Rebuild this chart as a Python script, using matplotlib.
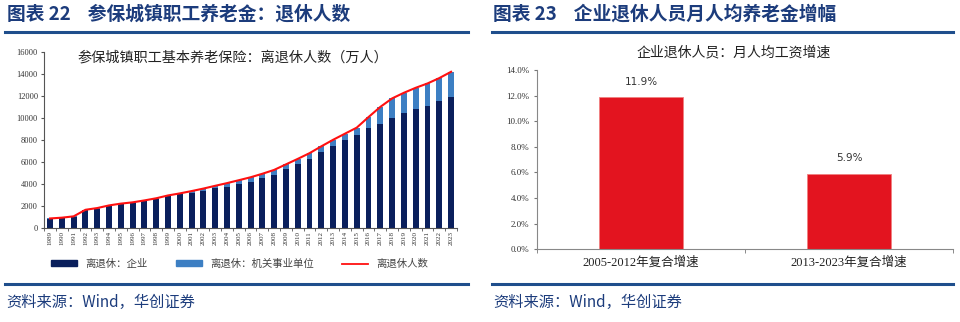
import numpy as np
import matplotlib.pyplot as plt
from matplotlib.lines import Line2D
from matplotlib.patches import Patch

plt.rcParams['font.family'] = ['Noto Sans CJK SC', 'DejaVu Sans']

# data: retirees (10k persons)
years = [str(y) for y in range(1989, 2024)]
total = [893, 965, 1086, 1681, 1839, 2079, 2241, 2358, 2533, 2727, 2984, 3170,
         3381, 3608, 3860, 4103, 4367, 4635, 4954, 5304, 5807, 6305, 6826, 7446,
         8041, 8593, 9142, 10103, 11026, 11798, 12310, 12762, 13157, 13644, 14217]
enterprise = [860, 930, 1050, 1630, 1785, 2020, 2180, 2290, 2460, 2650, 2900, 3090,
              3180, 3420, 3640, 3780, 4000, 4240, 4545, 4850, 5360, 5820, 6270, 6960,
              7480, 8030, 8510, 9090, 9450, 10000, 10450, 10820, 11150, 11570, 11960]
institution = [t - e for t, e in zip(total, enterprise)]

# data: pension growth
growth_cats = ['2005-2012年复合增速', '2013-2023年复合增速']
growth_vals = [11.9, 5.9]

NAVY = '#0A1F5C'
LBLUE = '#3D7FC3'
HEAD = '#1C3C7C'
SERIF = ['Liberation Serif', 'Noto Sans CJK SC']

fig = plt.figure(figsize=(9.6, 3.22), dpi=100)

# headers and rules
fig.text(0.007, 0.957, '图表 22    参保城镇职工养老金：退休人数', fontsize=13.5, fontweight='bold',
         color=HEAD, va='center')
fig.text(0.514, 0.957, '图表 23    企业退休人员月人均养老金增幅', fontsize=13.5, fontweight='bold',
         color=HEAD, va='center')
for x0, x1 in [(0.005, 0.487), (0.513, 0.993)]:
    fig.add_artist(Line2D([x0, x1], [0.902, 0.902], color='#1F4E8C', lw=2.2))
    fig.add_artist(Line2D([x0, x1], [0.117, 0.117], color='#1F4E8C', lw=2.2))
fig.text(0.007, 0.060, '资料来源：Wind，华创证券', fontsize=11, style='italic', color=HEAD, va='center')
fig.text(0.514, 0.060, '资料来源：Wind，华创证券', fontsize=11, style='italic', color=HEAD, va='center')

# left chart
ax = fig.add_axes([0.046, 0.291, 0.430, 0.547])
x = np.arange(len(years))
ax.bar(x, enterprise, width=0.5, color=NAVY, zorder=2)
ax.bar(x, institution, width=0.5, bottom=enterprise, color=LBLUE, zorder=2)
ax.plot(x, total, color='#FF1010', lw=1.5, zorder=3)
ax.set_xlim(-0.5, len(years) - 0.5)
ax.set_ylim(0, 16000)
ax.set_yticks(range(0, 16001, 2000))
ax.set_yticklabels([str(v) for v in range(0, 16001, 2000)], fontsize=6, family=SERIF, color='#333333')
ax.set_xticks(x)
ax.set_xticklabels(years, rotation=90, fontsize=5, family=SERIF, color='#333333')
ax.tick_params(axis='x', length=0, pad=2)
ax.set_xticks(np.arange(-0.5, len(years), 1), minor=True)
ax.tick_params(axis='x', which='minor', length=2.5, color='#555555')
ax.tick_params(axis='y', length=2.5, color='#555555', pad=2)
for s in ['top', 'right']:
    ax.spines[s].set_visible(False)
for s in ['left', 'bottom']:
    ax.spines[s].set_color('#555555')
    ax.spines[s].set_linewidth(0.8)
ax.text(0.458, 0.97, '参保城镇职工基本养老保险：离退休人数（万人）', transform=ax.transAxes,
        ha='center', va='center', fontsize=10.2, color='#222222')

handles = [Patch(color=NAVY), Patch(color=LBLUE), Line2D([0], [0], color='#FF1010', lw=1.3)]
labels = ['离退休：企业', '离退休：机关事业单位', '离退休人数']
fig.legend(handles, labels, loc='center', bbox_to_anchor=(0.25, 0.18), ncol=3, frameon=False,
           fontsize=7.5, handlelength=2.5, handleheight=0.5, columnspacing=2.7,
           labelcolor='#444444')

# right chart
ax2 = fig.add_axes([0.5594, 0.2258, 0.4333, 0.5568])
xc = np.arange(len(growth_cats))
bars = ax2.bar(xc, growth_vals, width=0.4, color='#E3141F', edgecolor='#F08080', lw=0.6, zorder=2)
for b, v in zip(bars, growth_vals):
    ax2.text(b.get_x() + b.get_width() / 2, v + 0.8, f'{v:.1f}%', ha='center', va='bottom',
             fontsize=7.5, color='#333333', family=['DejaVu Sans'])
ax2.set_xlim(-0.5, 1.5)
ax2.set_ylim(0, 14)
ax2.set_yticks(np.arange(0, 14.1, 2))
ax2.set_yticklabels([f'{v:.1f}%' for v in np.arange(0, 14.1, 2)], fontsize=6.5, family=SERIF,
                    color='#333333')
ax2.set_xticks(xc)
ax2.set_xticklabels(growth_cats, fontsize=9, family=SERIF, color='#222222')
ax2.tick_params(axis='x', length=0, pad=5)
ax2.set_xticks([-0.5, 0.5, 1.5], minor=True)
ax2.tick_params(axis='x', which='minor', length=3, color='#777777')
ax2.tick_params(axis='y', length=2.5, color='#777777', pad=3)
for s in ['top', 'right']:
    ax2.spines[s].set_visible(False)
for s in ['left', 'bottom']:
    ax2.spines[s].set_color('#888888')
    ax2.spines[s].set_linewidth(0.8)
fig.text(0.764, 0.838, '企业退休人员：月人均工资增速', ha='center', va='center', fontsize=10,
         color='#222222')

fig.savefig('out.png', dpi=100)
